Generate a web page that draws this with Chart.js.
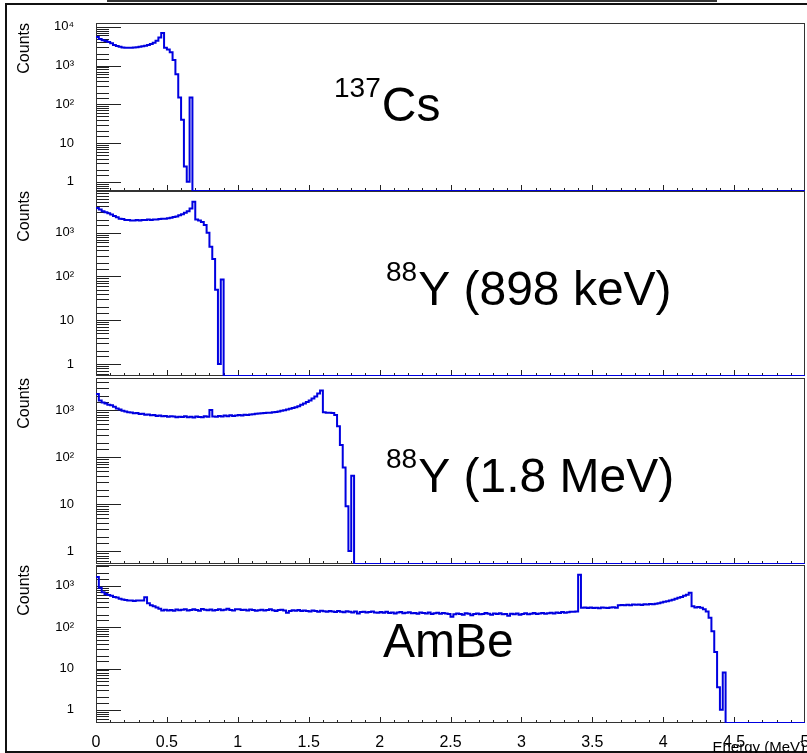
<!DOCTYPE html>
<html>
<head>
<meta charset="utf-8">
<script src="https://cdn.jsdelivr.net/npm/chart.js@4"></script>
<style>
  body { margin: 0; background: #fff; width: 807px; height: 753px; overflow: hidden; position: relative; }
  #topline { position: absolute; left: 107px; top: 0; width: 610px; height: 2px; background: #333; }
  #frame { position: absolute; left: 5px; top: 3px; width: 830px; height: 746px; border: 2px solid #111; }
  canvas { position: absolute; left: 8px; }
</style>
</head>
<body>
<div id="topline"></div>
<div id="frame"></div>
<canvas id="p1"></canvas>
<canvas id="p2"></canvas>
<canvas id="p3"></canvas>
<canvas id="p4"></canvas>
<script>
// histogram binning (MeV)
const binWidth = 0.02;
const energyMax = 5;

// counts per bin, starting at 0 MeV; bins past the end are empty
const csCounts = [5500, 4900, 4500, 4300, 4100, 3800, 3400, 3200, 3050, 2950,
  2900, 2900, 2900, 2950, 3000, 3050, 3150, 3250, 3400, 3600,
  3900, 4400, 5300, 7000, 2900, 2600, 2200, 1400, 600, 150,
  40, 2.5, 1, 150];

const y898Counts = [3700, 3400, 3100, 2950, 2800, 2600, 2400, 2250, 2100, 2050,
  1950, 1950, 1900, 1900, 1950, 1900, 1950, 1950, 2000, 1950,
  2000, 2000, 2050, 2100, 2100, 2150, 2200, 2300, 2350, 2500,
  2650, 2850, 3100, 3600, 5100, 2000, 1900, 1750, 1500, 1000,
  480, 250, 50, 1, 85];

const y1836Counts = [2200, 1600, 1450, 1380, 1300, 1260, 1180, 1080, 1020, 960,
  930, 900, 890, 850, 860, 820, 830, 790, 800, 770,
  780, 750, 760, 740, 750, 720, 740, 730, 700, 720,
  710, 740, 700, 720, 690, 730, 710, 700, 740, 720,
  1000, 730, 720, 750, 730, 760, 740, 770, 750, 760,
  780, 760, 790, 780, 800, 810, 830, 840, 850, 860,
  870, 880, 900, 910, 930, 960, 990, 1020, 1060, 1100,
  1150, 1210, 1290, 1380, 1480, 1600, 1750, 1950, 2250, 2600,
  900, 880, 870, 860, 780, 450, 180, 60, 9, 1,
  40];

const ambeCounts = [1650, 900, 700, 640, 600, 580, 540, 520, 490, 470,
  455, 440, 445, 430, 440, 445, 440, 530, 380, 340,
  320, 300, 280, 255, 265, 255, 262, 250, 268, 258,
  265, 272, 255, 260, 270, 262, 250, 275, 265, 258,
  268, 255, 262, 270, 258, 266, 280, 262, 255, 270,
  272, 260, 265, 255, 268, 262, 250, 258, 266, 254,
  262, 270, 256, 248, 260, 266, 252, 225, 245, 258,
  250, 262, 248, 255, 245, 240, 252, 246, 238, 250,
  242, 235, 248, 240, 232, 245, 238, 230, 242, 236,
  228, 240, 215, 232, 238, 226, 234, 240, 228, 225,
  232, 224, 236, 220, 228, 215, 226, 232, 218, 225,
  230, 216, 222, 212, 228, 220, 214, 226, 210, 218,
  224, 212, 220, 215, 208, 180, 205, 215, 210, 200,
  218, 212, 195, 208, 215, 205, 210, 220, 212, 200,
  215, 208, 218, 205, 210, 190, 212, 206, 215, 200,
  210, 218, 205, 212, 220, 208, 215, 222, 212, 218,
  225, 215, 228, 220, 232, 225, 230, 238, 235, 240,
  1850, 295, 298, 290, 300, 292, 296, 288, 300, 295,
  290, 298, 302, 294, 340, 345, 338, 350, 342, 355,
  348, 352, 345, 360, 355, 362, 358, 370, 380, 395,
  410, 425, 445, 460, 490, 515, 540, 575, 610, 680,
  320, 300, 310, 295, 270, 240, 170, 80, 25, 3.5,
  1, 8];

const countTicks = [1, 10, 100, 1000, 10000];
const countTickLabels = ['1', '10', '10\u00B2', '10\u00B3', '10\u2074'];

function histPoints(counts, yMin) {
  const pts = counts.map((c, i) => ({ x: i * binWidth, y: c > 0 ? c : yMin }));
  pts.push({ x: counts.length * binWidth, y: yMin });
  pts.push({ x: energyMax, y: yMin });
  return pts;
}

function isPow10(v) {
  const l = Math.log10(v);
  return Math.abs(l - Math.round(l)) < 1e-9;
}

// ROOT-like frame with ticks pointing inside
const rootFrame = {
  id: 'rootFrame',
  beforeDatasetsDraw(chart) {
    const { ctx, chartArea: a, scales: { x, y } } = chart;
    ctx.save();
    ctx.strokeStyle = '#222';
    ctx.lineWidth = 1;
    y.ticks.forEach(t => {
      if (t.value <= y.min * 1.001 || t.value >= y.max * 0.999) return;
      const py = Math.round(y.getPixelForValue(t.value)) + 0.5;
      const len = isPow10(t.value) ? 25 : 13;
      ctx.beginPath();
      ctx.moveTo(a.left, py);
      ctx.lineTo(a.left + len, py);
      ctx.stroke();
    });
    x.ticks.forEach(t => {
      if (t.value <= x.min || t.value >= x.max) return;
      const px = Math.round(x.getPixelForValue(t.value)) + 0.5;
      const major = Math.abs(t.value * 2 - Math.round(t.value * 2)) < 1e-6;
      ctx.beginPath();
      ctx.moveTo(px, a.bottom);
      ctx.lineTo(px, a.bottom - (major ? 6 : 3));
      ctx.stroke();
    });
    ctx.strokeStyle = '#333';
    ctx.strokeRect(a.left + 0.5, a.top + 0.5, a.right - a.left - 1, a.bottom - a.top - 1);
    ctx.restore();
  },
  afterDraw(chart, args, opts) {
    if (!opts.text) return;
    const { ctx, chartArea: a } = chart;
    ctx.save();
    ctx.fillStyle = '#000';
    ctx.textBaseline = 'alphabetic';
    let tx = a.left + opts.dx;
    const ty = a.top + opts.dy;
    if (opts.sup) {
      ctx.font = '28px "Liberation Sans", Arial, sans-serif';
      ctx.fillText(opts.sup, tx, ty - 24);
      tx += ctx.measureText(opts.sup).width + 1;
    }
    ctx.font = '48px "Liberation Sans", Arial, sans-serif';
    ctx.fillText(opts.text, tx, ty);
    ctx.restore();
  }
};

function makePanel(id, counts, yMin, yMax, areaTop, areaBottom, bottomAxis, label) {
  const canvas = document.getElementById(id);
  // the y scale asks for ~24px above and below the area for its labels
  const padTop = 24;
  const xHeight = bottomAxis ? 37 : 4;
  const padBottom = bottomAxis ? 0 : 24 - xHeight;
  const top = areaTop - padTop;
  canvas.width = 814;
  canvas.height = areaBottom - top + xHeight + padBottom;
  canvas.style.top = top + 'px';

  new Chart(canvas, {
    type: 'line',
    data: {
      datasets: [{
        data: histPoints(counts, yMin),
        borderColor: '#0000e0',
        borderWidth: 2,
        pointRadius: 0,
        stepped: 'before',
        fill: false
      }]
    },
    options: {
      responsive: false,
      animation: false,
      events: [],
      layout: { padding: { left: 0, right: 17, top: padTop, bottom: padBottom } },
      plugins: { legend: { display: false }, tooltip: { enabled: false }, rootFrame: label },
      scales: {
        x: {
          type: 'linear',
          min: 0,
          max: energyMax,
          grid: { display: false },
          border: { display: false },
          afterFit: s => { s.height = xHeight; },
          ticks: {
            display: bottomAxis,
            stepSize: 0.1,
            autoSkip: false,
            maxRotation: 0,
            padding: 2,
            color: '#000',
            font: { family: '"Liberation Sans", Arial, sans-serif', size: 16 },
            callback: v => (Math.abs(v * 2 - Math.round(v * 2)) < 1e-6 ? String(Math.round(v * 10) / 10) : '')
          },
          title: {
            display: bottomAxis,
            text: 'Energy (MeV)',
            align: 'end',
            color: '#000',
            padding: { top: 0, bottom: 3 },
            font: { family: '"Liberation Sans", Arial, sans-serif', size: 15 }
          }
        },
        y: {
          type: 'logarithmic',
          min: yMin,
          max: yMax,
          grid: { display: false },
          border: { display: false },
          afterFit: s => { s.width = 88; },
          ticks: {
            autoSkip: false,
            padding: 14,
            color: '#000',
            font: { family: '"Liberation Sans", Arial, sans-serif', size: 13 },
            callback: v => {
              const k = countTicks.findIndex(c => Math.abs(c - v) < 1e-6 * c);
              return k >= 0 ? countTickLabels[k] : '';
            }
          },
          title: {
            display: true,
            text: 'Counts',
            align: 'end',
            color: '#000',
            padding: { top: 7, bottom: 0 },
            font: { family: '"Liberation Sans", Arial, sans-serif', size: 16 }
          }
        }
      }
    },
    plugins: [rootFrame]
  });
}

makePanel('p1', csCounts, 0.58, 12600, 23, 191, false, { sup: '137', text: 'Cs', dx: 238, dy: 98 });
makePanel('p2', y898Counts, 0.53, 9000, 191, 376, false, { sup: '88', text: 'Y (898 keV)', dx: 290, dy: 114 });
makePanel('p3', y1836Counts, 0.53, 4800, 378, 564, false, { sup: '88', text: 'Y (1.8 MeV)', dx: 290, dy: 114 });
makePanel('p4', ambeCounts, 0.48, 3200, 565, 723, true, { text: 'AmBe', dx: 287, dy: 92 });
</script>
</body>
</html>
